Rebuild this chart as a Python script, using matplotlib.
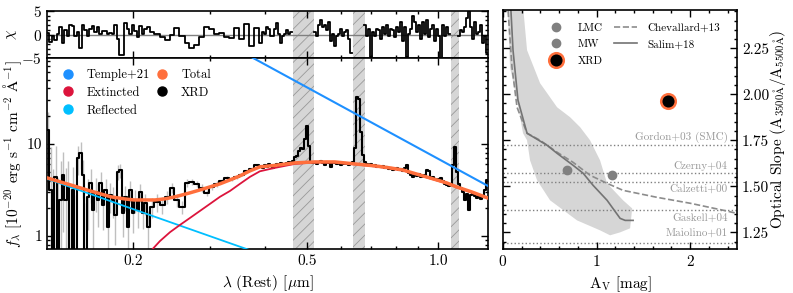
import matplotlib
matplotlib.use("Agg")
import numpy as np
from matplotlib import pyplot as plt
from matplotlib import ticker
from matplotlib.lines import Line2D

plt.rcParams["font.family"] = ["cmr10", "DejaVu Serif"]
plt.rcParams["mathtext.fontset"] = "cm"
plt.rcParams["axes.formatter.use_mathtext"] = True
plt.rcParams["font.size"] = 11
plt.rcParams["hatch.linewidth"] = 0.6

# ---- XRD spectrum (rest wavelength [um], f_lambda [1e-20 cgs], chi residual)
wave = [
    0.1277, 0.1294, 0.1311, 0.1329, 0.1346, 0.1364, 0.1382, 0.1401, 0.1419, 0.1438,
    0.1457, 0.1476, 0.1496, 0.1516, 0.1536, 0.1556, 0.1577, 0.1598, 0.1619, 0.1640,
    0.1662, 0.1684, 0.1706, 0.1729, 0.1752, 0.1775, 0.1798, 0.1822, 0.1846, 0.1871,
    0.1896, 0.1921, 0.1946, 0.1972, 0.1998, 0.2025, 0.2052, 0.2079, 0.2106, 0.2134,
    0.2163,
    0.2209, 0.2268, 0.2329, 0.2391, 0.2455, 0.2520, 0.2588, 0.2657, 0.2728, 0.2800,
    0.2875, 0.2952, 0.3031, 0.3112, 0.3195, 0.3280, 0.3368, 0.3458, 0.3550, 0.3645,
    0.3742, 0.3842,
    0.3924, 0.3966, 0.4008, 0.4050, 0.4093, 0.4136, 0.4180, 0.4224, 0.4269, 0.4314,
    0.4360, 0.4406, 0.4453, 0.4500, 0.4548, 0.4596, 0.4645, 0.4694, 0.4744, 0.4794,
    0.4845, 0.4896, 0.4948, 0.5000, 0.5053, 0.5106, 0.5160, 0.5215, 0.5270, 0.5326,
    0.5382, 0.5439, 0.5497, 0.5555, 0.5615, 0.5674, 0.5734, 0.5795, 0.5856, 0.5918,
    0.5981, 0.6044, 0.6108, 0.6173, 0.6238, 0.6304, 0.6371, 0.6439, 0.6507, 0.6574,
    0.6644, 0.6714, 0.6785, 0.6857, 0.6930, 0.7003, 0.7077, 0.7152, 0.7228, 0.7305,
    0.7382, 0.7460, 0.7539, 0.7619, 0.7700, 0.7781, 0.7864, 0.7947, 0.8031, 0.8116,
    0.8202, 0.8289, 0.8377, 0.8466, 0.8556, 0.8646, 0.8738, 0.8831, 0.8924, 0.9019,
    0.9114, 0.9211, 0.9308, 0.9407, 0.9507, 0.9607, 0.9709, 0.9812, 0.9916, 1.0021,
    1.0127, 1.0234, 1.0343, 1.0452, 1.0563, 1.0675, 1.0788, 1.0902, 1.1018, 1.1134,
    1.1252, 1.1372, 1.1492, 1.1614, 1.1737, 1.1861, 1.1987, 1.2114, 1.2242, 1.2372,
    1.2503, 1.2635, 1.2769, 1.2904,
]
flux = [
    14.2, 3.16, 0.3, 4.38, 0.3, 2.46, 4.60, 2.46, 3.58, 0.3,
    3.16, 0.3, 7.05, 7.90, 4.60, 0.3, 2.66, 3.77, 1.92, 3.01,
    2.46, 3.77, 2.17, 3.16, 1.25, 2.79, 2.46, 1.69, 4.96, 5.21,
    1.78, 2.66, 1.25, 3.16, 1.78, 2.46, 1.92, 3.01, 1.78, 2.29,
    1.25,
    2.07, 2.34, 2.17, 2.66, 3.33, 2.46, 2.07, 3.77, 3.87, 3.68,
    3.33, 2.94, 3.41, 3.68, 3.96, 4.27, 4.17, 4.38, 4.60, 5.09,
    5.35, 5.91,
    5.77, 5.49, 5.91, 5.63, 6.06, 5.77, 5.49, 5.91, 6.06, 5.77,
    6.22, 5.91, 6.06, 6.22, 6.37, 6.22, 6.54, 7.22, 7.41, 8.39,
    9.05, 8.83, 11.3, 15.7, 9.51, 6.37, 6.22, 6.37, 6.06, 6.37,
    6.54, 6.22, 5.91, 6.37, 6.22, 5.63, 6.37, 6.22, 6.06, 6.22,
    5.91, 6.06, 6.22, 6.06, 5.91, 6.22, 6.37, 9.05, 32.4, 30.8,
    13.5, 7.59, 6.37, 6.06, 5.91, 6.06, 5.77, 5.91, 5.63, 5.77,
    5.63, 5.77, 5.49, 5.63, 5.35, 5.49, 5.21, 5.35, 5.49, 5.21,
    5.35, 5.09, 5.49, 5.91, 4.84, 4.60, 4.38, 4.72, 4.49, 4.72,
    4.38, 4.49, 4.60, 5.21, 5.09, 4.27, 4.38, 4.17, 4.06, 4.17,
    4.27, 3.96, 3.68, 3.58, 3.50, 3.68, 5.91, 9.28, 4.96, 3.68,
    3.33, 3.01, 2.46, 2.87, 1.92, 2.79, 2.94, 2.73, 2.59, 2.73,
    2.53, 2.66, 3.16, 4.06,
]
# uncertainties of the blue (UV) part, where they are visible
flux_err = [
    8.0, 6.0, 5.0, 5.0, 4.0, 4.0, 3.5, 3.0, 3.0, 3.0,
    2.5, 2.5, 2.5, 2.5, 2.0, 2.0, 1.5, 1.5, 1.2, 1.2,
    1.2, 1.2, 1.0, 1.0, 1.0, 1.0, 0.9, 0.9, 0.9, 0.9,
    0.8, 0.8, 0.8, 0.8, 0.7, 0.7, 0.7, 0.7, 0.6, 0.6,
    0.6,
    0.5, 0.5, 0.45, 0.45, 0.4, 0.4, 0.35, 0.35, 0.3, 0.3,
    0.3, 0.25, 0.25, 0.25, 0.2, 0.2, 0.2, 0.2, 0.15, 0.15,
    0.15, 0.15,
]
nan = np.nan
chi = [
    0.4, -1.5, -0.2, -1.1, 0.1, 1.6, -1.7, 0.9, -0.2, 2.1,
    1.8, -0.2, 0.5, -2.8, 2.0, 0.9, -0.2, 1.3, 1.9, 0.5,
    1.6, 0.1, 0.7, 0.7, 0.1, 0.4, 0.1, 2.1, -1.0, -4.3,
    -4.3, 2.4, 1.3, 0.1, 2.0, 0.7, -0.6, 1.9, 0.1, 1.1,
    1.6,
    0.5, 0.2, -0.5, -1.2, 0.0, 1.5, -0.2, -1.7, -2.8, -2.1,
    -0.4, 1.6, 1.3, 0.1, 0.4, -0.4, -0.8, 1.5, -1.0, 2.3,
    -2.3, 1.5,
    -1.7, 0.5, 0.1, 1.6, 1.3, -0.2, -0.2, 1.3, 2.4, 0.1,
    -1.7, -0.2, 0.1, 0.9, 0.1, 0.5,
    nan, nan, nan, nan, nan, nan, nan, nan, nan, nan, nan,
    0.5, -0.2, 2.0, 3.1, 1.6, 2.0, 0.9, 2.7, -1.3, 0.1,
    -2.4, -0.2, 0.1, 1.3, -0.2, 0.5, 0.9, -1.0, -3.9,
    nan, nan, nan, nan, nan, nan,
    2.0, -0.2, 1.3, -4.7, 0.5, -0.2, 1.3, 0.9, -1.0, 1.6,
    0.1, 2.0, -0.2, 1.3, 0.9, -0.6, 1.6, 0.5, 2.7, -1.3,
    1.6, -4.7, 0.1, 1.3, 3.9, 2.7, 0.5, 2.0, -1.0, 2.7,
    0.1, 3.1, -0.6, 1.3, 2.0, -1.3, 1.3, -0.2, -6.0, 2.0,
    -0.2, 1.6, 0.1,
    nan, nan, nan, nan,
    -0.2, 0.9, 0.5, 1.6, 3.5, 5.0, 1.6, -1.0, 2.7, 0.1,
    0.5, 2.0, -1.7, -0.2, -3.9,
]

# ---- model components
total_wave = [0.1271, 0.1339, 0.1411, 0.1488, 0.1568, 0.1653, 0.1780, 0.1907, 0.2010,
              0.2118, 0.2244, 0.2366, 0.2494, 0.2700, 0.2845, 0.2999, 0.3161, 0.3333,
              0.3513, 0.3703, 0.3903, 0.4224, 0.4694, 0.5215, 0.5795, 0.6439, 0.7152,
              0.7740, 0.8289, 0.9066, 0.9916, 1.0452, 1.1018, 1.1924, 1.297]
total_flux = [4.27, 3.96, 3.68, 3.41, 3.16, 2.94, 2.66, 2.53, 2.46,
              2.46, 2.46, 2.53, 2.66, 2.94, 3.16, 3.41, 3.68, 4.06,
              4.49, 5.09, 5.63, 5.84, 6.22, 6.37, 6.37, 6.06, 5.77,
              5.49, 5.21, 4.60, 4.06, 3.77, 3.41, 3.01, 2.59]
ext_wave = [0.2185, 0.2304, 0.2430, 0.2562, 0.2700, 0.2845, 0.2999, 0.3161, 0.3333,
            0.3513, 0.3703, 0.3903, 0.4224, 0.4694, 0.5215, 0.5795, 0.6439, 0.7152,
            0.7740, 0.8289, 0.9066, 0.9916, 1.0452, 1.1018, 1.1924, 1.297]
ext_flux = [0.67, 0.88, 1.10, 1.32, 1.57, 1.87, 2.23, 2.66, 3.08,
            3.68, 4.38, 5.04, 5.49, 6.06, 6.29, 6.29, 5.98, 5.70,
            5.42, 5.15, 4.55, 4.01, 3.72, 3.37, 2.97, 2.56]
refl_wave = [0.1271, 0.3703]
refl_flux = [4.17, 0.70]
temple_wave = [0.376, 1.30]
temple_flux = [86.0, 3.49]

# masked emission-line windows
mask_lo = [0.465, 0.637, 1.068]
mask_hi = [0.519, 0.679, 1.114]

# ---- right panel: optical slope vs A_V
band_av = [0.048, 0.075, 0.150, 0.214, 0.257, 0.289, 0.364, 0.503, 0.791, 1.037,
           1.144, 1.251, 1.358, 1.380, 1.283, 1.112, 1.037, 0.930, 0.824, 0.717,
           0.578, 0.396, 0.257, 0.210]
band_slope = [2.50, 2.147, 1.967, 1.788, 1.75, 1.641, 1.533, 1.424, 1.315, 1.261,
              1.234, 1.250, 1.272, 1.380, 1.424, 1.516, 1.641, 1.75, 1.821, 1.875,
              1.929, 2.060, 2.239, 2.50]
salim_av = [0.080, 0.107, 0.160, 0.257, 0.470, 0.578, 0.749, 0.856, 0.963, 1.112,
            1.251, 1.305, 1.390]
salim_slope = [2.50, 2.239, 1.967, 1.788, 1.723, 1.679, 1.614, 1.571, 1.505, 1.424,
               1.326, 1.315, 1.315]
chev_av = [0.048, 0.096, 0.150, 0.257, 0.396, 0.578, 0.749, 0.930, 1.112, 1.283,
           1.647, 2.0, 2.353, 2.50]
chev_slope = [2.50, 2.147, 1.929, 1.788, 1.75, 1.685, 1.630, 1.560, 1.516, 1.478,
              1.440, 1.408, 1.370, 1.353]
ref_names = ["Gordon+03 (SMC)", "Czerny+04", "Calzetti+00", "Gaskell+04", "Maiolino+01"]
ref_slope = [1.723, 1.574, 1.523, 1.373, 1.194]
lmc_av, lmc_slope = 0.684, 1.587
mw_av, mw_slope = 1.166, 1.560
xrd_av, xrd_slope = 1.765, 1.962

# colours
c_temple = "#1e90ff"
c_ext = "#dc143c"
c_refl = "#00bfff"
c_total = "#ff6f3c"


def style(a):
    a.tick_params(which="both", direction="in", top=True, right=True, width=1)
    a.tick_params(which="major", length=5)
    a.tick_params(which="minor", length=2.5)
    for s in a.spines.values():
        s.set_linewidth(1.2)


fig = plt.figure(figsize=(7.93, 2.93), dpi=100)
ax_res = fig.add_axes([0.0593, 0.8010, 0.5561, 0.1614])
ax = fig.add_axes([0.0593, 0.1491, 0.5561, 0.6519], sharex=ax_res)
ax_r = fig.add_axes([0.6343, 0.1491, 0.2951, 0.8167])

# masked windows
for lo, hi in zip(mask_lo, mask_hi):
    for a in (ax, ax_res):
        a.axvspan(lo, hi, facecolor="0.84", edgecolor="0.6", hatch="///", lw=0, zorder=0)

# spectrum + models
n_err = len(flux_err)
ax.errorbar(wave[:n_err], flux[:n_err], yerr=flux_err, fmt="none",
            ecolor="0.75", elinewidth=1, zorder=1)
ax.step(wave, flux, where="mid", color="k", lw=1.5, zorder=2)
ax.plot(refl_wave, refl_flux, color=c_refl, lw=1.3, zorder=3)
ax.plot(ext_wave, ext_flux, color=c_ext, lw=1.3, zorder=3)
ax.plot(temple_wave, temple_flux, color=c_temple, lw=1.5, zorder=3)
ax.plot(total_wave, total_flux, color=c_total, lw=2.5, zorder=4)

ax.set_xscale("log")
ax.set_yscale("log")
ax.set_xlim(0.127, 1.30)
ax.set_ylim(0.716, 85)
ax.xaxis.set_major_locator(ticker.FixedLocator([0.2, 0.5, 1.0]))
ax.xaxis.set_major_formatter(ticker.FixedFormatter(["0.2", "0.5", "1.0"]))
ax.xaxis.set_minor_locator(ticker.LogLocator(base=10, subs=np.arange(1, 10), numticks=20))
ax.xaxis.set_minor_formatter(ticker.NullFormatter())
ax.yaxis.set_major_formatter(ticker.FormatStrFormatter("%g"))
ax.yaxis.set_minor_formatter(ticker.NullFormatter())
ax.set_xlabel(r"$\lambda$ (Rest) [$\mu$m]")
ax.set_ylabel(r"$f_\lambda$ [10$^{-20}$ erg s$^{-1}$ cm$^{-2}$ $\mathrm{\AA}^{-1}$]",
              labelpad=2)
style(ax)

handles = [Line2D([], [], ls="", marker="o", ms=6.5, color=c)
           for c in (c_temple, c_ext, c_refl, c_total, "k")]
labels = ["Temple+21", "Extincted", "Reflected", "Total", "XRD"]
ax.legend(handles, labels, ncol=2, loc="upper left", bbox_to_anchor=(0.015, 0.971),
          borderaxespad=0, frameon=False, fontsize=9, handlelength=1.5,
          handletextpad=0.77, columnspacing=0.2, labelspacing=0.46)

# residuals
ax_res.axhline(0, color="0.5", lw=1, zorder=1)
ax_res.step(wave, chi, where="mid", color="k", lw=1.3, zorder=2)
ax_res.set_ylim(-5, 5)
ax_res.yaxis.set_major_locator(ticker.FixedLocator([-5, 0, 5]))
ax_res.yaxis.set_minor_locator(ticker.MultipleLocator(1))
ax_res.set_ylabel(r"$\chi$", labelpad=1.5)
style(ax_res)
ax_res.tick_params(labelbottom=False)

# optical slope panel
ax_r.fill(band_av, band_slope, color="0.84", lw=0, zorder=0)
label_dy = [0.041, 0.036, -0.040, -0.043, 0.054]
for s, name, dy in zip(ref_slope, ref_names, label_dy):
    ax_r.axhline(s, color="0.5", ls=":", lw=1, zorder=1)
    ax_r.text(2.40, s + dy, name, ha="right", va="center", fontsize=8, color="0.6")
ax_r.plot(chev_av, chev_slope, color="0.55", ls="--", lw=1.2, zorder=2)
ax_r.plot(salim_av, salim_slope, color="0.45", lw=1.2, zorder=2)
ax_r.plot(lmc_av, lmc_slope, "o", color="0.5", ms=6, zorder=3)
ax_r.plot(mw_av, mw_slope, "o", color="0.5", ms=6, zorder=3)
ax_r.plot(xrd_av, xrd_slope, "o", mfc="k", mec=c_total, mew=1.8, ms=10.5, zorder=4)

ax_r.set_xlim(0, 2.5)
ax_r.set_ylim(1.158, 2.457)
ax_r.xaxis.set_major_locator(ticker.MultipleLocator(1))
ax_r.xaxis.set_minor_locator(ticker.MultipleLocator(0.2))
ax_r.yaxis.set_major_locator(ticker.MultipleLocator(0.25))
ax_r.yaxis.set_minor_locator(ticker.MultipleLocator(0.05))
ax_r.yaxis.set_major_formatter(ticker.FormatStrFormatter("%.2f"))
ax_r.set_xlabel(r"A$_{\rm V}$ [mag]")
ax_r.set_ylabel(r"Optical Slope (A$_{3500\mathrm{\AA}}$/A$_{5500\mathrm{\AA}}$)",
                labelpad=-1)
ax_r.yaxis.set_label_position("right")
style(ax_r)
ax_r.tick_params(labelleft=False, labelright=True)

r_handles = [
    Line2D([], [], ls="", marker="o", ms=6, color="0.5"),
    Line2D([], [], ls="", marker="o", ms=6, color="0.5"),
    Line2D([], [], ls="", marker="o", ms=10.5, mfc="k", mec=c_total, mew=1.8),
    Line2D([], [], ls="--", color="0.55", lw=1.2),
    Line2D([], [], ls="-", color="0.45", lw=1.2),
]
r_labels = ["LMC", "MW", "XRD", "Chevallard+13", "Salim+18"]
ax_r.legend(r_handles, r_labels, ncol=2, loc="upper left", bbox_to_anchor=(0.158, 0.965),
            borderaxespad=0, frameon=False, fontsize=8, handlelength=2.1,
            handletextpad=0.9, columnspacing=1.0, labelspacing=0.62)

fig.savefig("out.png", dpi=100)
